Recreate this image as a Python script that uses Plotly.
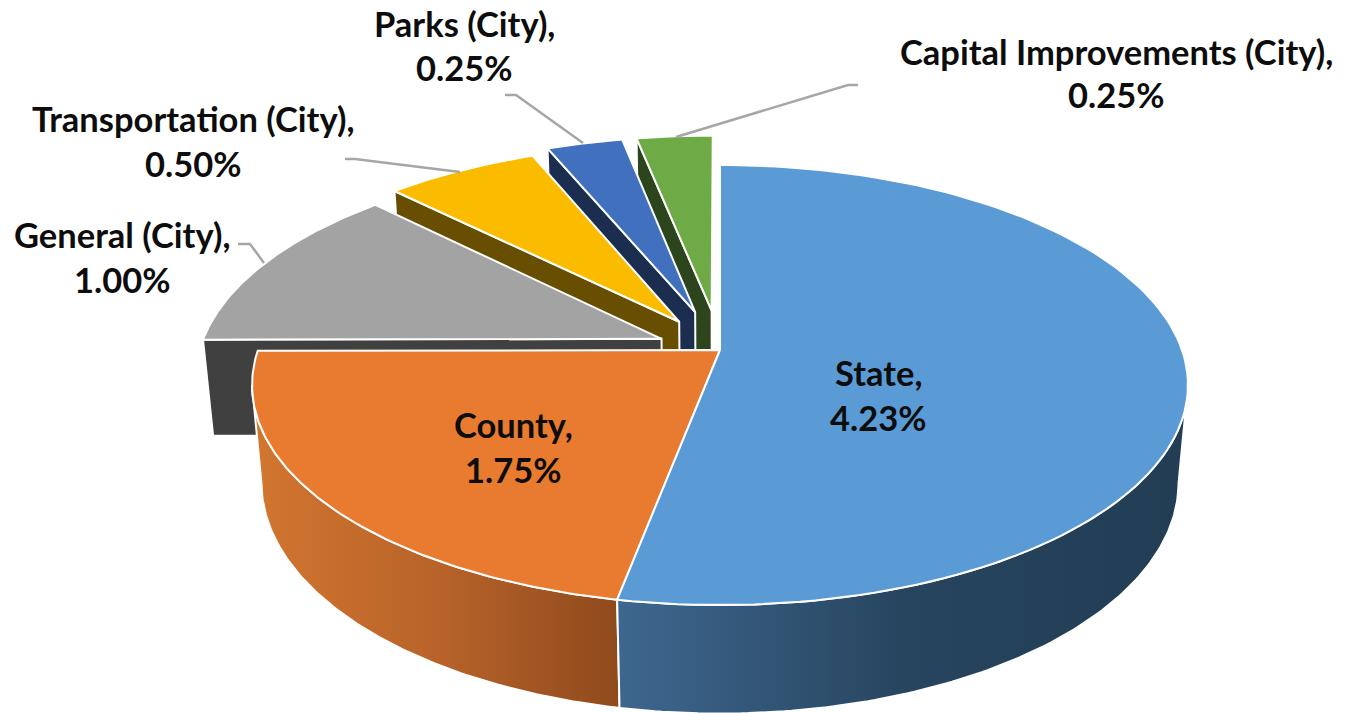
import numpy as np
import plotly.graph_objects as go

# ---- data ----
categories = ["State", "County", "General (City)", "Transportation (City)", "Parks (City)", "Capital Improvements (City)"]
rates = [4.23, 1.75, 1.00, 0.50, 0.25, 0.25]

# ---- styling / layout, kept apart from the data ----
explode = [0, 0, 0.138, 0.162, 0.19, 0.19]
top_colors = ["#5B9BD5", "#E97B30", "#A3A3A3", "#FBBC00", "#4170BF", "#6EAB47"]
wall_colors = [None, None, "#404040", "#674E00", "#1B2E50", "#2C451C"]
label_pos = [(878, 372, 417), (513, 424, 469), (122, 234, 279), (193, 118, 163), (464, 23, 67), (1116, 51, 94)]
leaders = [
    "M238,244 L250,244 L264,263",
    "M345,159 L355,159 L460,172",
    "M505,95 L516,95 L583,143",
    "M858,85 L848,85 L676,137",
]
FONT = "Lato"
FONT_SIZE = 34.5

# perspective view of the pie
CX, CY, A, B, K, DEPTH, Q = 720, 350, 462, 214.5, 0.159, 98.5, 0.02


def project(u, v, d=0.0):
    w = 1 + K * v + Q * d
    return CX + A * u / w, CY + (-B * v + DEPTH * d) / w


def arc(start, stop, s, mid, d=0.0, n=120):
    t = np.radians(np.linspace(start, stop, n))
    m = np.radians(mid)
    return project(np.sin(t) + s * np.sin(m), np.cos(t) + s * np.cos(m), d)


def apex(s, mid, d=0.0):
    m = np.radians(mid)
    return project(s * np.sin(m), s * np.cos(m), d)


total = sum(rates)
edges = np.concatenate([[0], np.cumsum(rates)]) / total * 360
fig = go.Figure()


def poly(xs, ys, color=None, gradient=None):
    kw = dict(fillgradient=gradient) if gradient else dict(fillcolor=color)
    fig.add_trace(go.Scatter(x=list(xs), y=list(ys), mode="lines", fill="toself",
                             line=dict(color="#FFFFFF", width=2), hoverinfo="skip",
                             showlegend=False, **kw))


def top_face(i):
    a0, a1 = edges[i], edges[i + 1]
    mid, s = (a0 + a1) / 2, explode[i]
    x, y = arc(a0, a1, s, mid)
    ax, ay = apex(s, mid)
    poly(np.r_[ax, x, ax], np.r_[ay, y, ay], top_colors[i])


def start_wall(i):
    a0, a1 = edges[i], edges[i + 1]
    mid, s = (a0 + a1) / 2, explode[i]
    ox, oy = arc(a0, a0, s, mid, 0, 1)
    bx, by = arc(a0, a0, s, mid, 1, 1)
    ax, ay = apex(s, mid)
    cx, cy = apex(s, mid, 1)
    poly([ox[0], ax, cx, bx[0], ox[0]], [oy[0], ay, cy, by[0], oy[0]], wall_colors[i])


# exploded slices, from the back to the front
for i in [5, 4, 3, 2]:
    start_wall(i)
    top_face(i)

# outer walls of the two large slices
left_limit = 270 - np.degrees(np.arcsin(K))
right_limit = 90 + np.degrees(np.arcsin(K))

x0, y0 = arc(edges[1], left_limit, 0, 0)
x1, y1 = arc(edges[1], left_limit, 0, 0, 1)
poly(np.r_[x0, x1[::-1], x0[0]], np.r_[y0, y1[::-1], y0[0]],
     gradient=dict(type="horizontal", start=255, stop=620,
                   colorscale=[[0, "#D2762F"], [0.5, "#B8632A"], [1, "#8F4A1C"]]))

x0, y0 = arc(right_limit, edges[1], 0, 0)
x1, y1 = arc(right_limit, edges[1], 0, 0, 1)
poly(np.r_[x0, x1[::-1], x0[0]], np.r_[y0, y1[::-1], y0[0]],
     gradient=dict(type="horizontal", start=618, stop=1188,
                   colorscale=[[0, "#3E678F"], [0.5, "#27455F"], [1, "#223D54"]]))

top_face(1)
top_face(0)

# labels
annotations = []
for name, rate, (lx, y1, y2) in zip(categories, rates, label_pos):
    for txt, ly in ((f"{name},", y1), (f"{rate:.2f}%", y2)):
        annotations.append(dict(x=lx, y=ly, xref="x", yref="y", text=f"<b>{txt}</b>", showarrow=False,
                                xanchor="center", yanchor="middle",
                                font=dict(family=FONT, size=FONT_SIZE, color="#0D0D0D")))

shapes = [dict(type="path", path=p, layer="above", line=dict(color="#A6A6A6", width=2.5)) for p in leaders]

fig.update_layout(
    width=1345, height=713, autosize=False,
    margin=dict(l=0, r=0, t=0, b=0),
    paper_bgcolor="#FFFFFF", plot_bgcolor="#FFFFFF",
    xaxis=dict(range=[0, 1345], visible=False, fixedrange=True),
    yaxis=dict(range=[713, 0], visible=False, fixedrange=True),
    annotations=annotations, shapes=shapes, showlegend=False,
)
fig.write_html("out.html", post_script="document.body.style.margin='0';document.body.style.overflow='hidden';",
               config=dict(displayModeBar=False))
